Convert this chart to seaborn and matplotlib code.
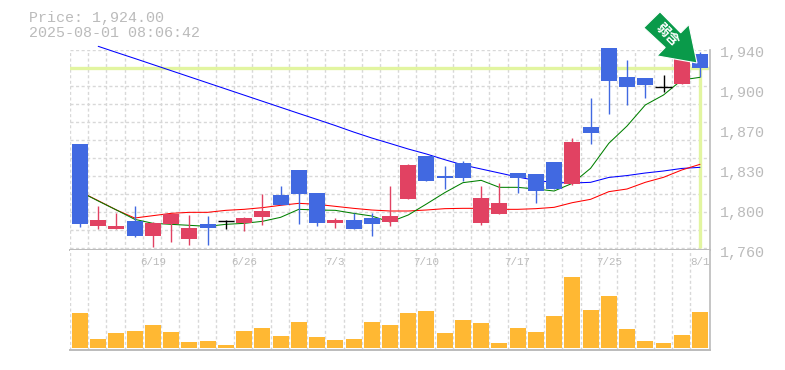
import numpy as np
import pandas as pd
import matplotlib.pyplot as plt
from matplotlib.patches import Polygon
from matplotlib.transforms import blended_transform_factory
import seaborn as sns

# Candles
open_px = [1855.4, 1781.6, 1778.9, 1786.1, 1772.6, 1783.4, 1769.9, 1783.4, 1786.1, 1784.3, 1789.7, 1809.5,
           1832.0, 1811.3, 1784.3, 1787.0, 1788.8, 1785.2, 1805.9, 1844.6, 1826.6, 1838.3, 1784.3, 1792.4,
           1829.3, 1828.4, 1839.2, 1819.4, 1870.7, 1941.8, 1915.7, 1914.8, 1906.7, 1909.4, 1936.4]
close_px = [1783.4, 1787.0, 1781.6, 1772.6, 1784.3, 1792.4, 1779.8, 1779.8, 1786.1, 1788.8, 1795.1, 1800.5,
            1810.4, 1784.3, 1787.0, 1778.9, 1783.4, 1790.6, 1836.5, 1822.1, 1824.8, 1824.8, 1806.8, 1802.3,
            1824.8, 1813.1, 1814.9, 1857.2, 1865.3, 1912.1, 1906.7, 1908.5, 1906.7, 1932.0, 1924.0]
high_px = [1855.4, 1799.6, 1793.3, 1799.6, 1785.2, 1792.4, 1791.5, 1790.6, 1787.0, 1789.7, 1810.4, 1817.6,
           1832.0, 1811.3, 1788.8, 1793.3, 1793.3, 1817.6, 1837.4, 1844.6, 1835.6, 1840.1, 1817.6, 1820.3,
           1829.3, 1828.4, 1839.2, 1860.8, 1896.8, 1941.8, 1931.0, 1914.8, 1917.5, 1932.0, 1938.2]
low_px = [1780.7, 1778.9, 1778.9, 1771.7, 1762.7, 1767.2, 1764.5, 1764.5, 1778.9, 1777.1, 1782.5, 1800.5,
          1783.4, 1781.6, 1779.8, 1778.9, 1772.6, 1781.6, 1805.9, 1822.1, 1814.9, 1822.1, 1782.5, 1792.4,
          1811.3, 1802.3, 1814.9, 1818.5, 1855.4, 1882.4, 1890.5, 1896.8, 1902.2, 1909.4, 1915.4]

# Moving averages
ma_green = [1812.5, 1804.1, 1796.0, 1787.6, 1784.0, 1783.1, 1782.2, 1781.3, 1783.1, 1784.0, 1785.8, 1789.4,
            1796.6, 1796.0, 1795.7, 1793.0, 1790.6, 1785.2, 1791.5, 1801.4, 1811.6, 1820.6, 1822.7, 1816.4,
            1816.4, 1814.9, 1813.1, 1820.0, 1833.5, 1856.0, 1871.6, 1890.5, 1899.5, 1913.0, 1915.4]
ma_red = [1812.5, 1804.4, 1796.0, 1788.8, 1790.9, 1793.0, 1793.9, 1793.9, 1795.7, 1796.6, 1798.1, 1800.2,
          1802.0, 1801.1, 1799.3, 1797.5, 1796.0, 1795.1, 1795.1, 1796.0, 1797.2, 1797.5, 1797.5, 1796.6,
          1796.6, 1797.2, 1798.4, 1802.6, 1805.6, 1812.5, 1814.9, 1820.9, 1825.4, 1832.0, 1837.1]
ma_blue = [np.nan, 1943.3, 1937.8, 1932.4, 1926.9, 1921.4, 1915.9, 1910.4, 1904.9, 1899.4, 1893.9, 1888.4,
           1882.9, 1877.5, 1872.0, 1866.2, 1860.8, 1855.9, 1850.9, 1846.4, 1841.3, 1836.5, 1832.9, 1829.3,
           1825.7, 1822.6, 1820.8, 1820.3, 1820.9, 1825.3, 1827.0, 1829.3, 1831.1, 1833.4, 1834.4]

volume = [35, 9, 15, 17, 23, 16, 6, 7, 3, 17, 20, 12, 26, 11, 8, 9, 26, 23,
          35, 37, 15, 28, 25, 5, 20, 16, 32, 71, 38, 52, 19, 7, 5, 13, 36]

last_price = 1924.0
price_labels = ['1,940', '1,900', '1,870', '1,830', '1,800', '1,760']
date_idx = [4, 9, 14, 19, 24, 29, 34]
date_labels = ['6/19', '6/26', '7/3', '7/10', '7/17', '7/25', '8/1']

BLUE = '#4169E1'
RED = '#E14262'
BLACK = '#000000'
GRID = '#D8D8D8'
FRAME = '#BBBBBB'
TXT = '#BBBBBB'
YELLOW = '#E2F5A0'

sns.set_theme(style='white')
plt.rcParams['font.family'] = ['Liberation Mono', 'DejaVu Sans Mono', 'Noto Sans CJK JP']

df = pd.DataFrame({'idx': np.arange(len(volume)), 'open': open_px, 'close': close_px, 'high': high_px,
                   'low': low_px, 'volume': volume, 'green': ma_green, 'red': ma_red, 'blue': ma_blue})

W, H = 785, 370
fig = plt.figure(figsize=(W / 100, H / 100), dpi=100)
ax = fig.add_axes([70 / W, (H - 250) / H, 640 / W, 200 / H])
ax_vol = fig.add_axes([70 / W, (H - 350) / H, 640 / W, 100 / H])

xlim = (-0.548, 34.55)
gridx = df['idx'] - 0.548

for a in (ax, ax_vol):
    a.set_xlim(*xlim)
    a.set_xticks(gridx)
    a.set_xticklabels([])
    a.tick_params(length=0)
    a.grid(axis='x', color=GRID, lw=1, ls=(0, (2.2, 1.8)))
    a.set_axisbelow(True)
    for s in a.spines.values():
        s.set_visible(False)
    a.spines['right'].set_visible(True)
    a.spines['bottom'].set_visible(True)
    a.spines['right'].set_color(FRAME)
    a.spines['bottom'].set_color(FRAME)
    a.spines['right'].set_linewidth(1.2)
    a.spines['bottom'].set_linewidth(1.4)

# Price panel
ax.set_ylim(1760, 1940)
ax.set_yticks(np.arange(1761.8, 1941, 16.2))
ax.set_yticklabels([])
ax.grid(axis='y', color=GRID, lw=1, ls=(0, (2.2, 1.8)))

ax.axhline(last_price, color=YELLOW, lw=2.4, zorder=1)
ax.vlines(df['idx'].iloc[-1], 1762, last_price, color=YELLOW, lw=2.4, zorder=1)

for col, c in (('blue', '#0000FF'), ('red', '#FF0000'), ('green', '#008000')):
    sns.lineplot(data=df, x='idx', y=col, color=c, linewidth=0.75, ax=ax, zorder=2, clip_on=False)
ax.set_xlabel('')
ax.set_ylabel('')
ax.set_xlim(*xlim)
ax.set_ylim(1760, 1940)

colors = [BLACK if c == o else (RED if c > o else BLUE) for o, c in zip(open_px, close_px)]
ax.vlines(df['idx'], df['low'], df['high'], colors=colors, lw=1.0, zorder=3, clip_on=False)
body_low = df[['open', 'close']].min(axis=1)
body_h = (df['open'] - df['close']).abs()
ax.bar(df['idx'], body_h, bottom=body_low, width=0.877, color=colors, lw=0, zorder=4, clip_on=False)
flat = df[df['open'] == df['close']]
ax.hlines(flat['open'], flat['idx'] - 0.44, flat['idx'] + 0.44, color=BLACK, lw=1.0, zorder=4)

for k, lab in enumerate(price_labels):
    fig.text(720 / W, 1 - (53.5 + 40 * k) / H, lab, color=TXT, fontsize=10.8, va='center', ha='left')

# Volume panel
sns.barplot(data=df, x='idx', y='volume', native_scale=True, color='#FFB833', saturation=1, width=0.877,
            lw=0, ax=ax_vol, zorder=3)
ax_vol.set_xlabel('')
ax_vol.set_ylabel('')
ax_vol.set_xlim(*xlim)
ax_vol.set_ylim(-2, 98)
ax_vol.set_xticks(gridx)
ax_vol.set_xticklabels([])
ax_vol.set_yticks([])

trans = blended_transform_factory(ax_vol.transData, ax_vol.transAxes)
for i, lab in zip(date_idx, date_labels):
    ax_vol.text(i, 0.88, lab, transform=trans, color=TXT, fontsize=7.8, ha='center', va='center', zorder=5)

# Header
fig.text(29 / W, 1 - 18 / H, 'Price: 1,924.00', color=TXT, fontsize=10.8, va='center', ha='left')
fig.text(29 / W, 1 - 33 / H, '2025-08-01 08:06:42', color=TXT, fontsize=10.8, va='center', ha='left')

# Signal arrow, in image pixels
pts = [(660, 11.8), (680.7, 32.8), (688.9, 24.5), (697, 63), (657, 55.9), (665.2, 47.5), (643.8, 27.7)]
poly = [(x / W, 1 - y / H) for x, y in pts]
fig.add_artist(Polygon(poly, closed=True, transform=fig.transFigure, facecolor='#0A9A4A',
                       edgecolor='white', lw=0.8, zorder=10))
fig.text(667 / W, 1 - 35 / H, '弱含', color='white', fontsize=9.5, fontweight='bold', rotation=-45,
         rotation_mode='anchor', ha='center', va='center', zorder=11, family=['Noto Sans CJK JP'])

fig.savefig('out.png', dpi=100)
